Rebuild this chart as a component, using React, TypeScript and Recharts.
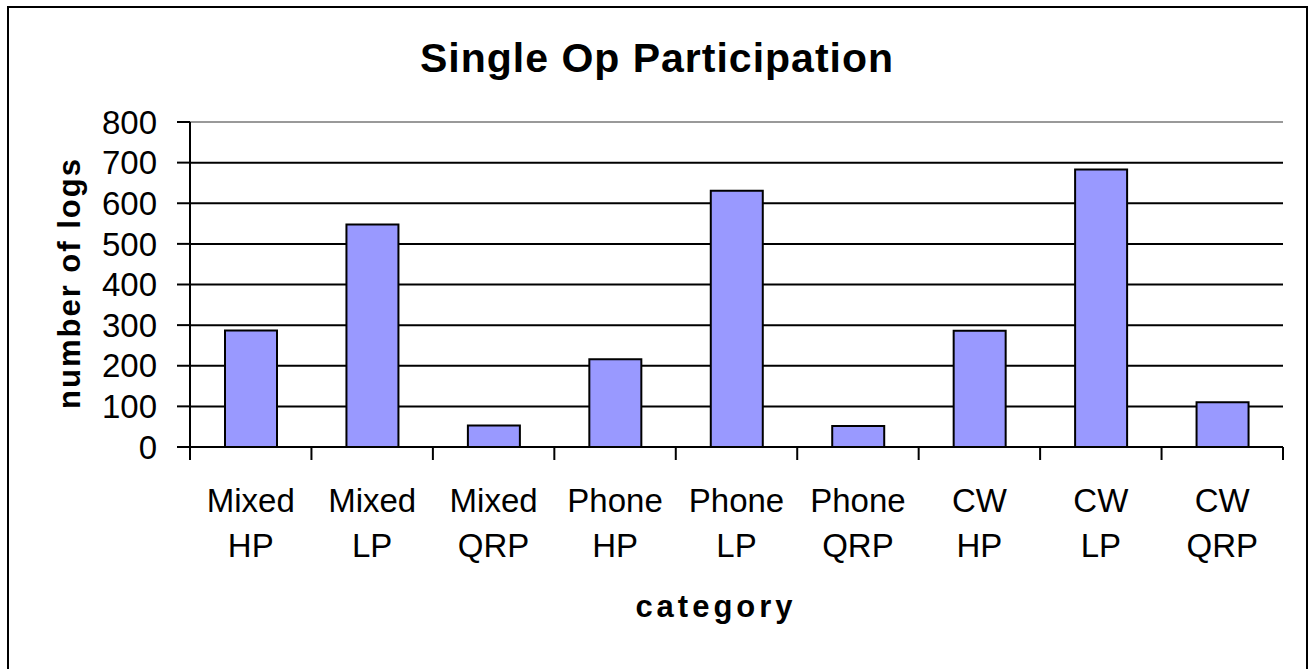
import { BarChart, Bar, XAxis, YAxis, CartesianGrid, ReferenceLine } from 'recharts'

const categories = [
  'Mixed HP', 'Mixed LP', 'Mixed QRP',
  'Phone HP', 'Phone LP', 'Phone QRP',
  'CW HP', 'CW LP', 'CW QRP',
]
const logs = [287, 548, 53, 216, 631, 52, 286, 683, 110]
const yTicks = [0, 100, 200, 300, 400, 500, 600, 700, 800]

const data = categories.map((c, i) => ({ category: c, logs: logs[i] }))

const W = 1315
const H = 669
const FONT = "'Liberation Sans', Arial, sans-serif"

function CategoryTick(props: any) {
  const { x, y, payload, index, visibleTicksCount, width } = props
  const band = (width ?? 1093) / visibleTicksCount
  const [top, bottom] = String(payload.value).split(' ')
  const left = x - band / 2
  return (
    <g>
      <line x1={left} x2={left} y1={y} y2={y + 13} stroke="#000" strokeWidth={2} />
      {index === visibleTicksCount - 1 && (
        <line x1={x + band / 2} x2={x + band / 2} y1={y} y2={y + 13} stroke="#000" strokeWidth={2} />
      )}
      <text x={x} y={y + 65} textAnchor="middle" fontSize={33} fill="#000">{top}</text>
      <text x={x} y={y + 110} textAnchor="middle" fontSize={33} fill="#000">{bottom}</text>
    </g>
  )
}

export default function App() {
  return (
    <div style={{ position: 'absolute', left: 0, top: 0, width: W, height: H, overflow: 'hidden', background: '#fff', fontFamily: FONT }}>
      <div style={{ position: 'absolute', left: 7, top: 6, width: 1301, height: 720, border: '2px solid #000', boxSizing: 'border-box' }} />
      <BarChart
        width={W}
        height={H}
        data={data}
        margin={{ top: 122, right: 32, left: 110, bottom: 102 }}
        style={{ position: 'absolute', left: 0, top: 0 }}
      >
        <CartesianGrid vertical={false} stroke="#000" strokeWidth={2} />
        <XAxis
          dataKey="category"
          height={120}
          interval={0}
          tickSize={0}
          tickMargin={0}
          tickLine={false}
          axisLine={{ stroke: '#000', strokeWidth: 2 }}
          tick={<CategoryTick />}
        />
        <YAxis
          width={80}
          domain={[0, 800]}
          ticks={yTicks}
          interval={0}
          tickSize={13}
          tickMargin={20}
          axisLine={{ stroke: '#000', strokeWidth: 2 }}
          tickLine={{ stroke: '#000', strokeWidth: 2 }}
          tick={{ fontSize: 33, fill: '#000' }}
        />
        <YAxis
          yAxisId="frame"
          orientation="right"
          width={0}
          domain={[0, 800]}
          tick={false}
          tickLine={false}
          axisLine={{ stroke: '#999', strokeWidth: 2 }}
        />
        <ReferenceLine y={800} stroke="#999" strokeWidth={2} />
        <Bar dataKey="logs" fill="#9999ff" stroke="#000" strokeWidth={2} barSize={52} isAnimationActive={false} />
      </BarChart>
      <svg width={W} height={H} style={{ position: 'absolute', left: 0, top: 0, pointerEvents: 'none' }}>
        <text x={657} y={72} textAnchor="middle" fontSize={41} fontWeight="bold" letterSpacing={1} fill="#000">
          Single Op Participation
        </text>
        <text transform="translate(80,283) rotate(-90)" textAnchor="middle" fontSize={31} fontWeight="bold" letterSpacing={2} fill="#000">
          number of logs
        </text>
        <text x={716} y={617} textAnchor="middle" fontSize={31} fontWeight="bold" letterSpacing={4} fill="#000">
          category
        </text>
      </svg>
    </div>
  )
}
